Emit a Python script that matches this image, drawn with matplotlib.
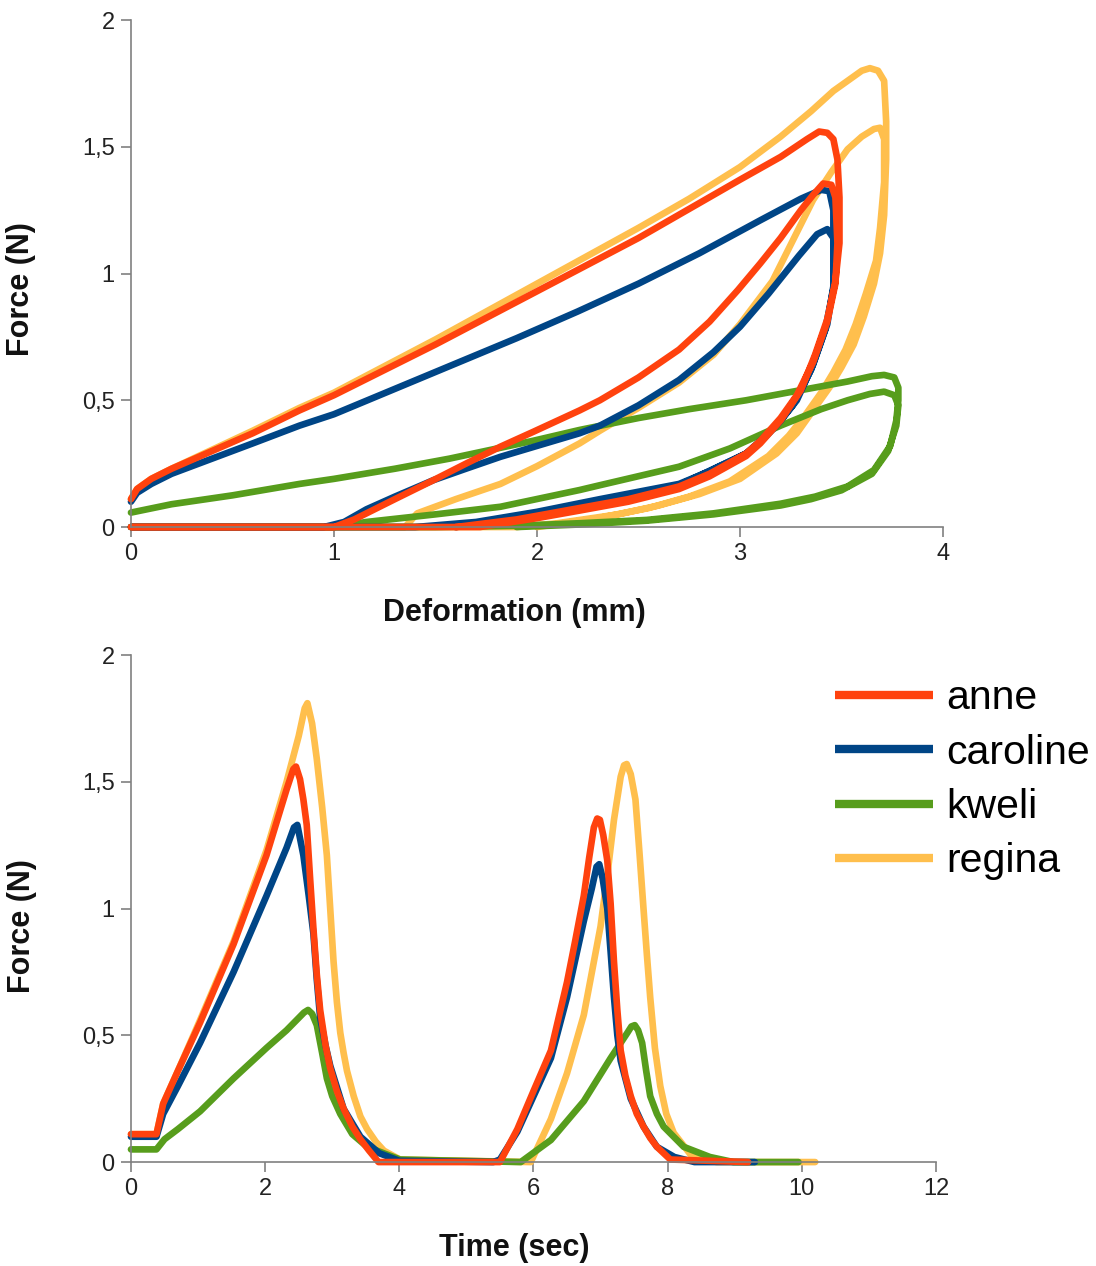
import matplotlib
matplotlib.use("Agg")
import matplotlib.pyplot as plt
from matplotlib.ticker import FuncFormatter

plt.rcParams["font.family"] = ["Liberation Sans", "DejaVu Sans"]

NAMES = ["anne", "caroline", "kweli", "regina"]
COLORS = {"anne": "#ff420e", "caroline": "#004586", "kweli": "#579d1c", "regina": "#ffbf4d"}
DRAW_ORDER = ["regina", "kweli", "caroline", "anne"]

# force vs deformation: two load/unload cycles per subject
anne_def = [0, 0.03, 0.1, 0.2, 0.4, 0.6, 0.83, 1.0, 1.25, 1.5, 1.75, 2.0, 2.25, 2.5, 2.75, 3.0, 3.2, 3.33, 3.39, 3.43, 3.46, 3.48,
            3.49, 3.49, 3.47, 3.43, 3.37, 3.3, 3.2, 3.1, 3.03, 2.85, 2.7, 2.45, 2.21, 2.0, 1.72, 0.0,
            1.0, 1.1, 1.16, 1.3, 1.49, 1.65, 1.82, 1.98, 2.21, 2.31, 2.5, 2.7, 2.85, 2.99, 3.1, 3.2, 3.3, 3.36, 3.41, 3.45, 3.47,
            3.48, 3.47, 3.43, 3.36, 3.28, 3.2, 3.1, 3.03, 2.85, 2.7, 2.45, 2.21, 1.9, 1.6]
anne_force = [0.11, 0.15, 0.19, 0.23, 0.30, 0.37, 0.46, 0.52, 0.62, 0.72, 0.825, 0.93, 1.035, 1.14, 1.255, 1.37, 1.46, 1.53, 1.56, 1.555, 1.53, 1.45,
              1.30, 1.12, 0.97, 0.82, 0.68, 0.54, 0.42, 0.33, 0.28, 0.20, 0.15, 0.10, 0.065, 0.035, 0.0, 0.0,
              0.0, 0.03, 0.054, 0.11, 0.185, 0.25, 0.317, 0.375, 0.46, 0.50, 0.59, 0.70, 0.81, 0.935, 1.04, 1.14, 1.25, 1.31, 1.355, 1.35, 1.30,
              1.12, 0.96, 0.81, 0.65, 0.52, 0.43, 0.34, 0.29, 0.21, 0.16, 0.11, 0.075, 0.03, 0.0]

caroline_def = [0, 0.03, 0.1, 0.2, 0.4, 0.6, 0.83, 1.0, 1.3, 1.6, 1.9, 2.2, 2.5, 2.8, 3.1, 3.3, 3.4, 3.44, 3.46,
                3.46, 3.46, 3.42, 3.35, 3.26, 3.18, 3.1, 3.03, 2.85, 2.7, 2.31, 2.0, 1.7, 1.4, 0.0,
                0.95, 1.05, 1.16, 1.3, 1.49, 1.65, 1.82, 2.0, 2.21, 2.31, 2.5, 2.7, 2.87, 3.0, 3.14, 3.29, 3.38, 3.43, 3.46,
                3.46, 3.43, 3.36, 3.28, 3.2, 3.1, 3.03, 2.7, 2.31, 2.0, 1.6]
caroline_force = [0.10, 0.135, 0.17, 0.21, 0.27, 0.33, 0.40, 0.445, 0.545, 0.645, 0.745, 0.85, 0.96, 1.08, 1.21, 1.295, 1.33, 1.325, 1.25,
                  1.08, 0.94, 0.78, 0.62, 0.48, 0.40, 0.335, 0.29, 0.22, 0.17, 0.11, 0.06, 0.02, 0.0, 0.0,
                  0.0, 0.02, 0.07, 0.12, 0.185, 0.23, 0.277, 0.32, 0.37, 0.40, 0.48, 0.58, 0.69, 0.79, 0.92, 1.07, 1.155, 1.175, 1.14,
                  0.95, 0.80, 0.64, 0.50, 0.42, 0.34, 0.29, 0.165, 0.10, 0.05, 0.0]

kweli_def = [0, 0.2, 0.5, 0.83, 1.0, 1.3, 1.57, 1.98, 2.21, 2.5, 2.75, 3.03, 3.3, 3.53, 3.65, 3.71, 3.76, 3.78,
             3.78, 3.77, 3.74, 3.66, 3.53, 3.37, 3.2, 2.87, 2.54, 2.21, 1.9, 1.5, 0.0,
             1.0, 1.16, 1.5, 1.82, 2.21, 2.31, 2.7, 2.95, 3.2, 3.4, 3.53, 3.64, 3.71, 3.76, 3.78,
             3.77, 3.73, 3.65, 3.5, 3.35, 3.2, 2.87, 2.54, 2.21, 1.9]
kweli_force = [0.057, 0.09, 0.125, 0.17, 0.19, 0.23, 0.27, 0.34, 0.383, 0.43, 0.465, 0.50, 0.54, 0.574, 0.595, 0.60, 0.59, 0.55,
               0.50, 0.42, 0.32, 0.225, 0.16, 0.12, 0.092, 0.054, 0.028, 0.015, 0.005, 0.0, 0.0,
               0.0, 0.02, 0.05, 0.08, 0.146, 0.165, 0.238, 0.31, 0.40, 0.465, 0.50, 0.525, 0.534, 0.52, 0.48,
               0.40, 0.30, 0.21, 0.145, 0.11, 0.085, 0.05, 0.025, 0.01, 0.0]

regina_def = [0, 0.03, 0.1, 0.2, 0.4, 0.6, 0.83, 1.0, 1.25, 1.5, 1.75, 2.0, 2.25, 2.5, 2.75, 3.0, 3.2, 3.35, 3.46, 3.53, 3.6, 3.64, 3.68, 3.71,
              3.72, 3.72, 3.71, 3.69, 3.66, 3.61, 3.56, 3.5, 3.44, 3.36, 3.28, 3.18, 3.0, 2.8, 2.6, 2.4, 2.1, 1.9, 0.0,
              1.35, 1.41, 1.6, 1.82, 2.0, 2.21, 2.31, 2.5, 2.7, 2.87, 3.0, 3.16, 3.26, 3.36, 3.45, 3.53, 3.6, 3.66, 3.69, 3.71,
              3.71, 3.69, 3.67, 3.62, 3.57, 3.52, 3.46, 3.4, 3.32, 3.24, 3.14, 2.95, 2.75, 2.55, 2.3, 2.0]
regina_force = [0.11, 0.15, 0.19, 0.23, 0.305, 0.38, 0.47, 0.53, 0.635, 0.74, 0.85, 0.96, 1.07, 1.18, 1.295, 1.42, 1.54, 1.64, 1.72, 1.76, 1.80, 1.81, 1.80, 1.76,
                1.60, 1.45, 1.23, 1.08, 0.96, 0.83, 0.72, 0.63, 0.55, 0.46, 0.37, 0.29, 0.19, 0.13, 0.085, 0.05, 0.015, 0.0, 0.0,
                0.0, 0.054, 0.11, 0.17, 0.24, 0.33, 0.38, 0.47, 0.57, 0.68, 0.80, 0.97, 1.13, 1.29, 1.40, 1.49, 1.54, 1.57, 1.575, 1.53,
                1.36, 1.18, 1.05, 0.92, 0.80, 0.70, 0.61, 0.53, 0.44, 0.36, 0.28, 0.18, 0.12, 0.075, 0.035, 0.0]

# force vs time
anne_time = [0, 0.38, 0.48, 0.7, 1.03, 1.53, 2.02, 2.32, 2.42, 2.46, 2.52, 2.57, 2.62, 2.67, 2.72, 2.77, 2.82, 2.9, 2.97, 3.07, 3.17, 3.3, 3.42, 3.55, 3.69,
             5.5, 5.76, 6.0, 6.26, 6.5, 6.62, 6.75, 6.83, 6.9, 6.95, 6.99, 7.04, 7.1, 7.15, 7.2, 7.25, 7.3, 7.37, 7.45, 7.54, 7.64, 7.74, 7.84, 8.04, 9.2]
anne_tforce = [0.11, 0.11, 0.23, 0.36, 0.55, 0.86, 1.21, 1.47, 1.55, 1.56, 1.51, 1.43, 1.33, 1.12, 0.92, 0.74, 0.60, 0.46, 0.37, 0.28, 0.21, 0.14, 0.09, 0.045, 0.0,
               0.0, 0.13, 0.28, 0.44, 0.71, 0.87, 1.05, 1.20, 1.32, 1.355, 1.35, 1.29, 1.19, 1.02, 0.79, 0.60, 0.44, 0.34, 0.26, 0.19, 0.14, 0.095, 0.06, 0.01, 0.0]

caroline_time = [0, 0.38, 0.48, 0.7, 1.03, 1.53, 2.02, 2.32, 2.43, 2.48, 2.57, 2.65, 2.72, 2.77, 2.82, 2.9, 2.97, 3.17, 3.42, 3.7, 4.0,
                 5.4, 5.5, 5.76, 6.26, 6.5, 6.75, 6.87, 6.94, 6.98, 7.03, 7.1, 7.15, 7.2, 7.25, 7.3, 7.45, 7.64, 7.84, 8.1, 8.4, 9.3]
caroline_tforce = [0.10, 0.10, 0.19, 0.30, 0.47, 0.75, 1.05, 1.24, 1.32, 1.33, 1.21, 1.05, 0.90, 0.72, 0.57, 0.46, 0.38, 0.21, 0.10, 0.035, 0.005,
                   0.0, 0.01, 0.12, 0.41, 0.65, 0.95, 1.08, 1.165, 1.175, 1.12, 1.0, 0.83, 0.65, 0.50, 0.40, 0.25, 0.14, 0.06, 0.02, 0.0, 0.0]

kweli_time = [0, 0.38, 0.5, 0.7, 1.03, 1.53, 2.02, 2.32, 2.58, 2.64, 2.7, 2.77, 2.85, 2.92, 3.0, 3.12, 3.3, 3.52, 4.01,
              5.81, 6.26, 6.75, 7.15, 7.4, 7.46, 7.51, 7.56, 7.62, 7.68, 7.74, 7.84, 7.94, 8.24, 8.63, 8.98, 9.95]
kweli_tforce = [0.05, 0.05, 0.09, 0.13, 0.20, 0.33, 0.45, 0.52, 0.59, 0.60, 0.585, 0.54, 0.43, 0.33, 0.26, 0.19, 0.11, 0.06, 0.01,
                0.0, 0.087, 0.24, 0.41, 0.51, 0.535, 0.54, 0.52, 0.47, 0.36, 0.26, 0.19, 0.14, 0.06, 0.02, 0.0, 0.0]

regina_time = [0, 0.38, 0.48, 0.7, 1.03, 1.53, 2.02, 2.32, 2.5, 2.59, 2.63, 2.7, 2.77, 2.85, 2.92, 2.97, 3.02, 3.07, 3.12, 3.17, 3.22, 3.32, 3.42, 3.52, 3.65, 3.77, 4.01,
               5.96, 6.26, 6.5, 6.75, 7.0, 7.1, 7.2, 7.3, 7.35, 7.39, 7.45, 7.52, 7.58, 7.64, 7.69, 7.74, 7.81, 7.89, 7.98, 8.09, 8.34, 8.73, 10.2]
regina_tforce = [0.11, 0.11, 0.23, 0.36, 0.56, 0.87, 1.23, 1.50, 1.68, 1.79, 1.81, 1.73, 1.59, 1.40, 1.21, 1.0, 0.79, 0.63, 0.51, 0.43, 0.36, 0.26, 0.18, 0.13, 0.08, 0.045, 0.01,
                 0.0, 0.17, 0.35, 0.58, 0.93, 1.13, 1.35, 1.52, 1.565, 1.57, 1.53, 1.43, 1.22, 1.0, 0.82, 0.65, 0.45, 0.30, 0.19, 0.115, 0.03, 0.0, 0.0]

DEFORMATION = {"anne": (anne_def, anne_force), "caroline": (caroline_def, caroline_force),
               "kweli": (kweli_def, kweli_force), "regina": (regina_def, regina_force)}
TIMELINE = {"anne": (anne_time, anne_tforce), "caroline": (caroline_time, caroline_tforce),
            "kweli": (kweli_time, kweli_tforce), "regina": (regina_time, regina_tforce)}

SPINE = "#808080"
LW = 4.8


def comma_fmt(v, _):
    return f"{v:g}".replace(".", ",")


def style_axes(ax):
    for side in ("top", "right"):
        ax.spines[side].set_visible(False)
    for side in ("left", "bottom"):
        ax.spines[side].set_color(SPINE)
        ax.spines[side].set_linewidth(1.2)
    ax.tick_params(direction="out", length=7.2, width=1.2, color=SPINE,
                   labelsize=17, labelcolor="#222222")
    ax.tick_params(axis="x", pad=4)
    ax.tick_params(axis="y", pad=4.5)
    ax.yaxis.set_major_formatter(FuncFormatter(comma_fmt))
    ax.set_ylim(0, 2)
    ax.set_yticks([0, 0.5, 1, 1.5, 2])


fig = plt.figure(figsize=(10.96, 12.66), dpi=100)
ax1 = fig.add_axes([0.1195, 0.5837, 0.7409, 0.4005])
ax2 = fig.add_axes([0.1195, 0.0821, 0.7345, 0.4005])

for name in DRAW_ORDER:
    x, f = DEFORMATION[name]
    ax1.plot(x, f, color=COLORS[name], lw=LW, solid_joinstyle="round",
             solid_capstyle="round", clip_on=False)
    t, tf = TIMELINE[name]
    ax2.plot(t, tf, color=COLORS[name], lw=LW, solid_joinstyle="round",
             solid_capstyle="round", clip_on=False, label=name)

style_axes(ax1)
ax1.set_xlim(0, 4)
ax1.set_xticks([0, 1, 2, 3, 4])
style_axes(ax2)
ax2.set_xlim(0, 12)
ax2.set_xticks([0, 2, 4, 6, 8, 10, 12])

label_kw = dict(fontsize=22, fontweight="bold", color="#111111")
ax1.set_xlabel("Deformation (mm)", **label_kw)
ax1.set_ylabel("Force (N)", **label_kw)
ax2.set_xlabel("Time (sec)", **label_kw)
ax2.set_ylabel("Force (N)", **label_kw)
ax1.xaxis.set_label_coords(0.472, -0.14)
ax2.xaxis.set_label_coords(0.476, -0.14)
ax1.yaxis.set_label_coords(-0.117, 0.47)
ax2.yaxis.set_label_coords(-0.117, 0.466)

handles, labels = ax2.get_legend_handles_labels()
order = [labels.index(n) for n in NAMES]
leg = ax2.legend([handles[i] for i in order], [labels[i] for i in order],
                 loc="center left", bbox_to_anchor=(0.762, 0.384),
                 bbox_transform=fig.transFigure, frameon=False, fontsize=29.5,
                 handlelength=2.4, handletextpad=0.3, labelspacing=0.4,
                 borderpad=0, borderaxespad=0)
for line in leg.get_lines():
    line.set_linewidth(6)
    line.set_solid_capstyle("butt")

fig.savefig("out.png", dpi=100)
